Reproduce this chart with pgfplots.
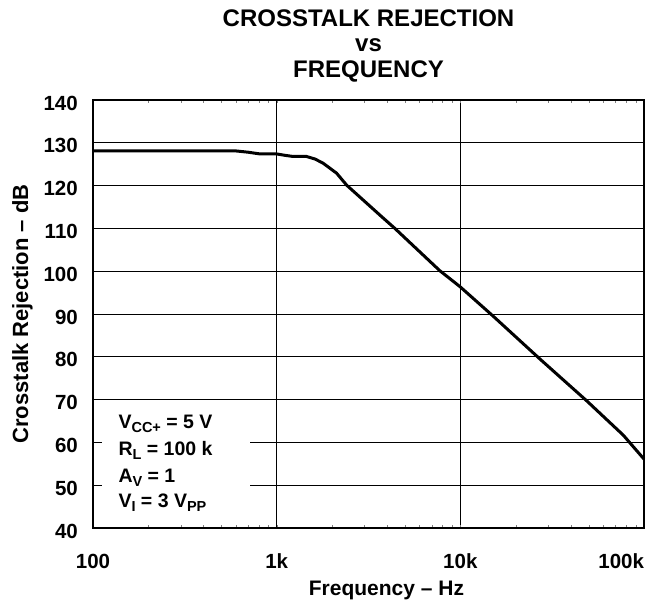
\documentclass[border=0pt]{standalone}
\usepackage{fontspec}
\setmainfont{Liberation Sans}
\usepackage{pgfplots}
\pgfplotsset{compat=1.18}
\newcommand\sub[1]{\raisebox{-4.5pt}{\fontsize{14.5}{14.5}\selectfont #1}}
\begin{document}
\bfseries
\begin{tikzpicture}
\begin{axis}[
  scale only axis, width=551pt, height=428pt,
  xmode=log, xmin=100, xmax=100000, ymin=40, ymax=140,
  xtick={100,1000,10000,100000},
  xticklabels={100,1k,10k,\llap{100k}},
  ytick={40,50,...,140},
  minor xtick={},
  major tick length=0pt,
  grid=major,
  major grid style={black, line width=0.8pt},
  axis line style={line width=2.4pt},
  tick label style={font=\fontsize{20.5}{20.5}\selectfont\bfseries},
  /pgf/number format/assume math mode=true,
  xticklabel style={anchor=base, yshift=-40pt},
  yticklabel style={anchor=east, inner sep=0pt, xshift=-15pt, yshift=-3pt},
  clip=false,
]
% white box behind the test conditions
\fill[white] (rel axis cs:0.016,0.019) rectangle (rel axis cs:0.285,0.29);

\addplot[black, line width=3pt] coordinates {
  (100,128.1) (600,128.1) (700,127.8) (811,127.4) (1000,127.4) (1100,127.1)
  (1230,126.8) (1455,126.8) (1620,126.2) (1795,125.2) (2120,122.9)
  (2405,120.1) (3650,113.1) (4400,110.0) (7740,100.1) (9950,96.4)
  (15000,89.6) (27100,79.5) (48800,69.7) (77100,61.7) (100000,56.1)
};

\node[anchor=base west, font=\fontsize{19.5}{19.5}\selectfont\bfseries] at (rel axis cs:0,0) [xshift=22pt, yshift=100pt] {V\sub{CC+} = 5 V};
\node[anchor=base west, font=\fontsize{19.5}{19.5}\selectfont\bfseries] at (rel axis cs:0,0) [xshift=22pt, yshift=73pt] {R\sub{L} = 100 k};
\node[anchor=base west, font=\fontsize{19.5}{19.5}\selectfont\bfseries] at (rel axis cs:0,0) [xshift=22pt, yshift=46pt] {A\sub{V} = 1};
\node[anchor=base west, font=\fontsize{19.5}{19.5}\selectfont\bfseries] at (rel axis cs:0,0) [xshift=22pt, yshift=21pt] {V\sub{I} = 3 V\sub{PP}};

% titles and axis labels
\node[anchor=base, font=\fontsize{24}{24}\selectfont\bfseries] at (rel axis cs:0.5,1) [yshift=73pt] {CROSSTALK REJECTION};
\node[anchor=base, font=\fontsize{24}{24}\selectfont\bfseries] at (rel axis cs:0.5,1) [yshift=48pt] {vs};
\node[anchor=base, font=\fontsize{24}{24}\selectfont\bfseries] at (rel axis cs:0.5,1) [yshift=22pt] {FREQUENCY};
\node[anchor=base, font=\fontsize{21}{21}\selectfont\bfseries] at (rel axis cs:0.5,0) [xshift=18pt, yshift=-67pt] {Frequency -- Hz};
\node[anchor=base, rotate=90, font=\fontsize{22}{22}\selectfont\bfseries] at ([xshift=-65pt]rel axis cs:0,0.5) {Crosstalk Rejection -- dB};
\end{axis}
\path (current axis.south west) ++(-93pt,-75pt) rectangle ++(658pt,603pt);
\end{tikzpicture}
\end{document}
